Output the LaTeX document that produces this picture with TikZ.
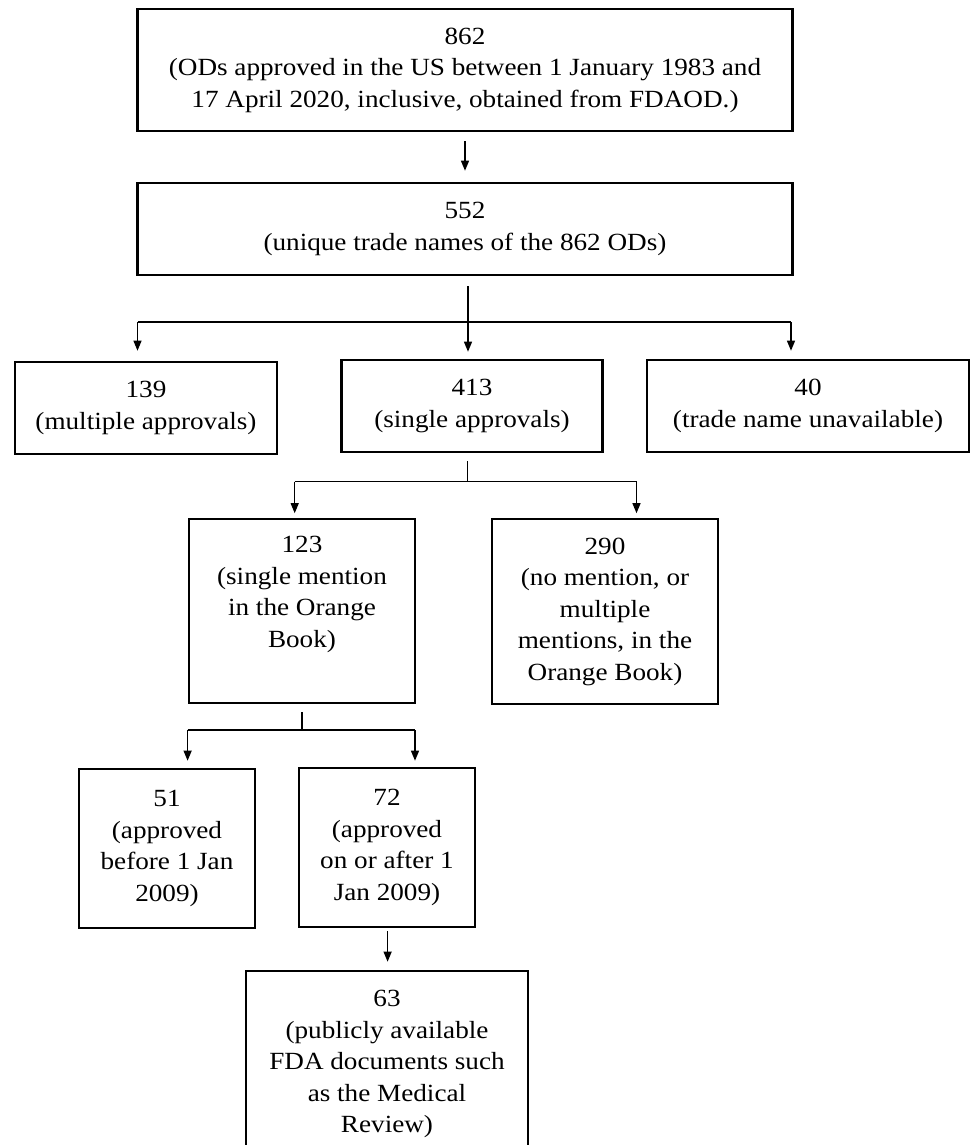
\documentclass[tikz,border=0pt]{standalone}
\usepackage{fontspec}
\setmainfont{Liberation Serif}[FakeStretch=1.1]
\usetikzlibrary{arrows.meta}

\begin{document}
\begin{tikzpicture}[x=1pt,y=1pt,yscale=-1,xscale=1,
  box/.style={draw, line width=2.6pt, align=center, inner sep=0pt, font=\fontsize{24.7}{31.5}\selectfont},
  txt/.style={align=center, inner sep=0pt, font=\fontsize{24.7}{31.5}\selectfont},
  conn/.style={line width=1.2pt},
  arr/.style={conn, -{Triangle[length=10pt,width=8pt]}}]
\useasboundingbox (0,0) rectangle (971,1145);

%Shape: Rectangle
\node[box, minimum width=655, minimum height=122] (n862) at (465,70) {862\\(ODs approved in the US between 1 January 1983 and\\17 April 2020, inclusive, obtained from FDAOD.)};
%Shape: Rectangle
\node[box, minimum width=655, minimum height=92] (n552) at (465,229) {552\\(unique trade names of the 862 ODs)};

%Shape: Rectangle
\node[box, minimum width=262, minimum height=92] (n139) at (146,408) {139\\(multiple approvals)};
%Shape: Rectangle
\node[box, minimum width=261, minimum height=92] (n413) at (472,406) {413\\(single approvals)};
%Shape: Rectangle
\node[box, minimum width=322, minimum height=92] (n40) at (808,406) {40\\(trade name unavailable)};

%Shape: Rectangle
\node[box, minimum width=226, minimum height=184] (n123) at (302,611) {};
% Text Node
\node[txt, anchor=north] (t123) at (302,536) {123\\(single mention\\in the Orange\\Book)};
%Shape: Rectangle
\node[box, minimum width=226, minimum height=185] (n290) at (605,611.5) {290\\(no mention, or\\multiple\\mentions, in the\\Orange Book)};

%Shape: Rectangle
\node[box, minimum width=176, minimum height=159] (n51) at (167,848.5) {51\\(approved\\before 1 Jan\\2009)};
%Shape: Rectangle
\node[box, minimum width=176, minimum height=159] (n72) at (387,847.5) {72\\(approved\\on or after 1\\Jan 2009)};

%Shape: Rectangle
\node[box, minimum width=282, minimum height=180] (n63) at (387,1061) {};
% Text Node
\node[txt, anchor=north] (t63) at (387,990) {63\\(publicly available\\FDA documents such\\as the Medical\\Review)};

%Straight Lines
\draw[arr, shorten <=9pt, shorten >=11pt] (n862.south) -- (n552.north);

%Straight Lines
\coordinate (s552) at (468,322);
\coordinate (s552l) at (137.5,322);
\coordinate (s552r) at (791,322);
\draw[conn] (s552l) -- (s552r);
\draw[arr, shorten <=10pt, shorten >=7pt] (n552.south -| s552) -- (s552 |- n413.north);
\draw[arr, shorten >=10pt] (s552l) -- (s552l |- n139.north);
\draw[arr, shorten >=8pt] (s552r) -- (s552r |- n40.north);

%Straight Lines
\coordinate (s413) at (467.5,481.7);
\coordinate (s413l) at (294.7,481.7);
\coordinate (s413r) at (636.5,481.7);
\draw[conn, shorten <=7.7pt] (n413.south -| s413) -- (s413);
\draw[conn] (s413l) -- (s413r);
\draw[arr, shorten >=4.5pt] (s413l) -- (s413l |- n123.north);
\draw[arr, shorten >=4.5pt] (s413r) -- (s413r |- n290.north);

%Straight Lines
\coordinate (s123) at (302,730);
\coordinate (s123l) at (187.6,730);
\coordinate (s123r) at (415,730);
\draw[conn, shorten <=8pt] (n123.south -| s123) -- (s123);
\draw[conn] (s123l) -- (s123r);
\draw[arr, shorten >=7pt] (s123l) -- (s123l |- n51.north);
\draw[arr, shorten >=6pt] (s123r) -- (s123r |- n72.north);

%Straight Lines
\draw[arr, shorten <=3pt, shorten >=8pt] (n72.south -| 387.6,0) -- (n63.north -| 387.6,0);

\end{tikzpicture}
\end{document}
